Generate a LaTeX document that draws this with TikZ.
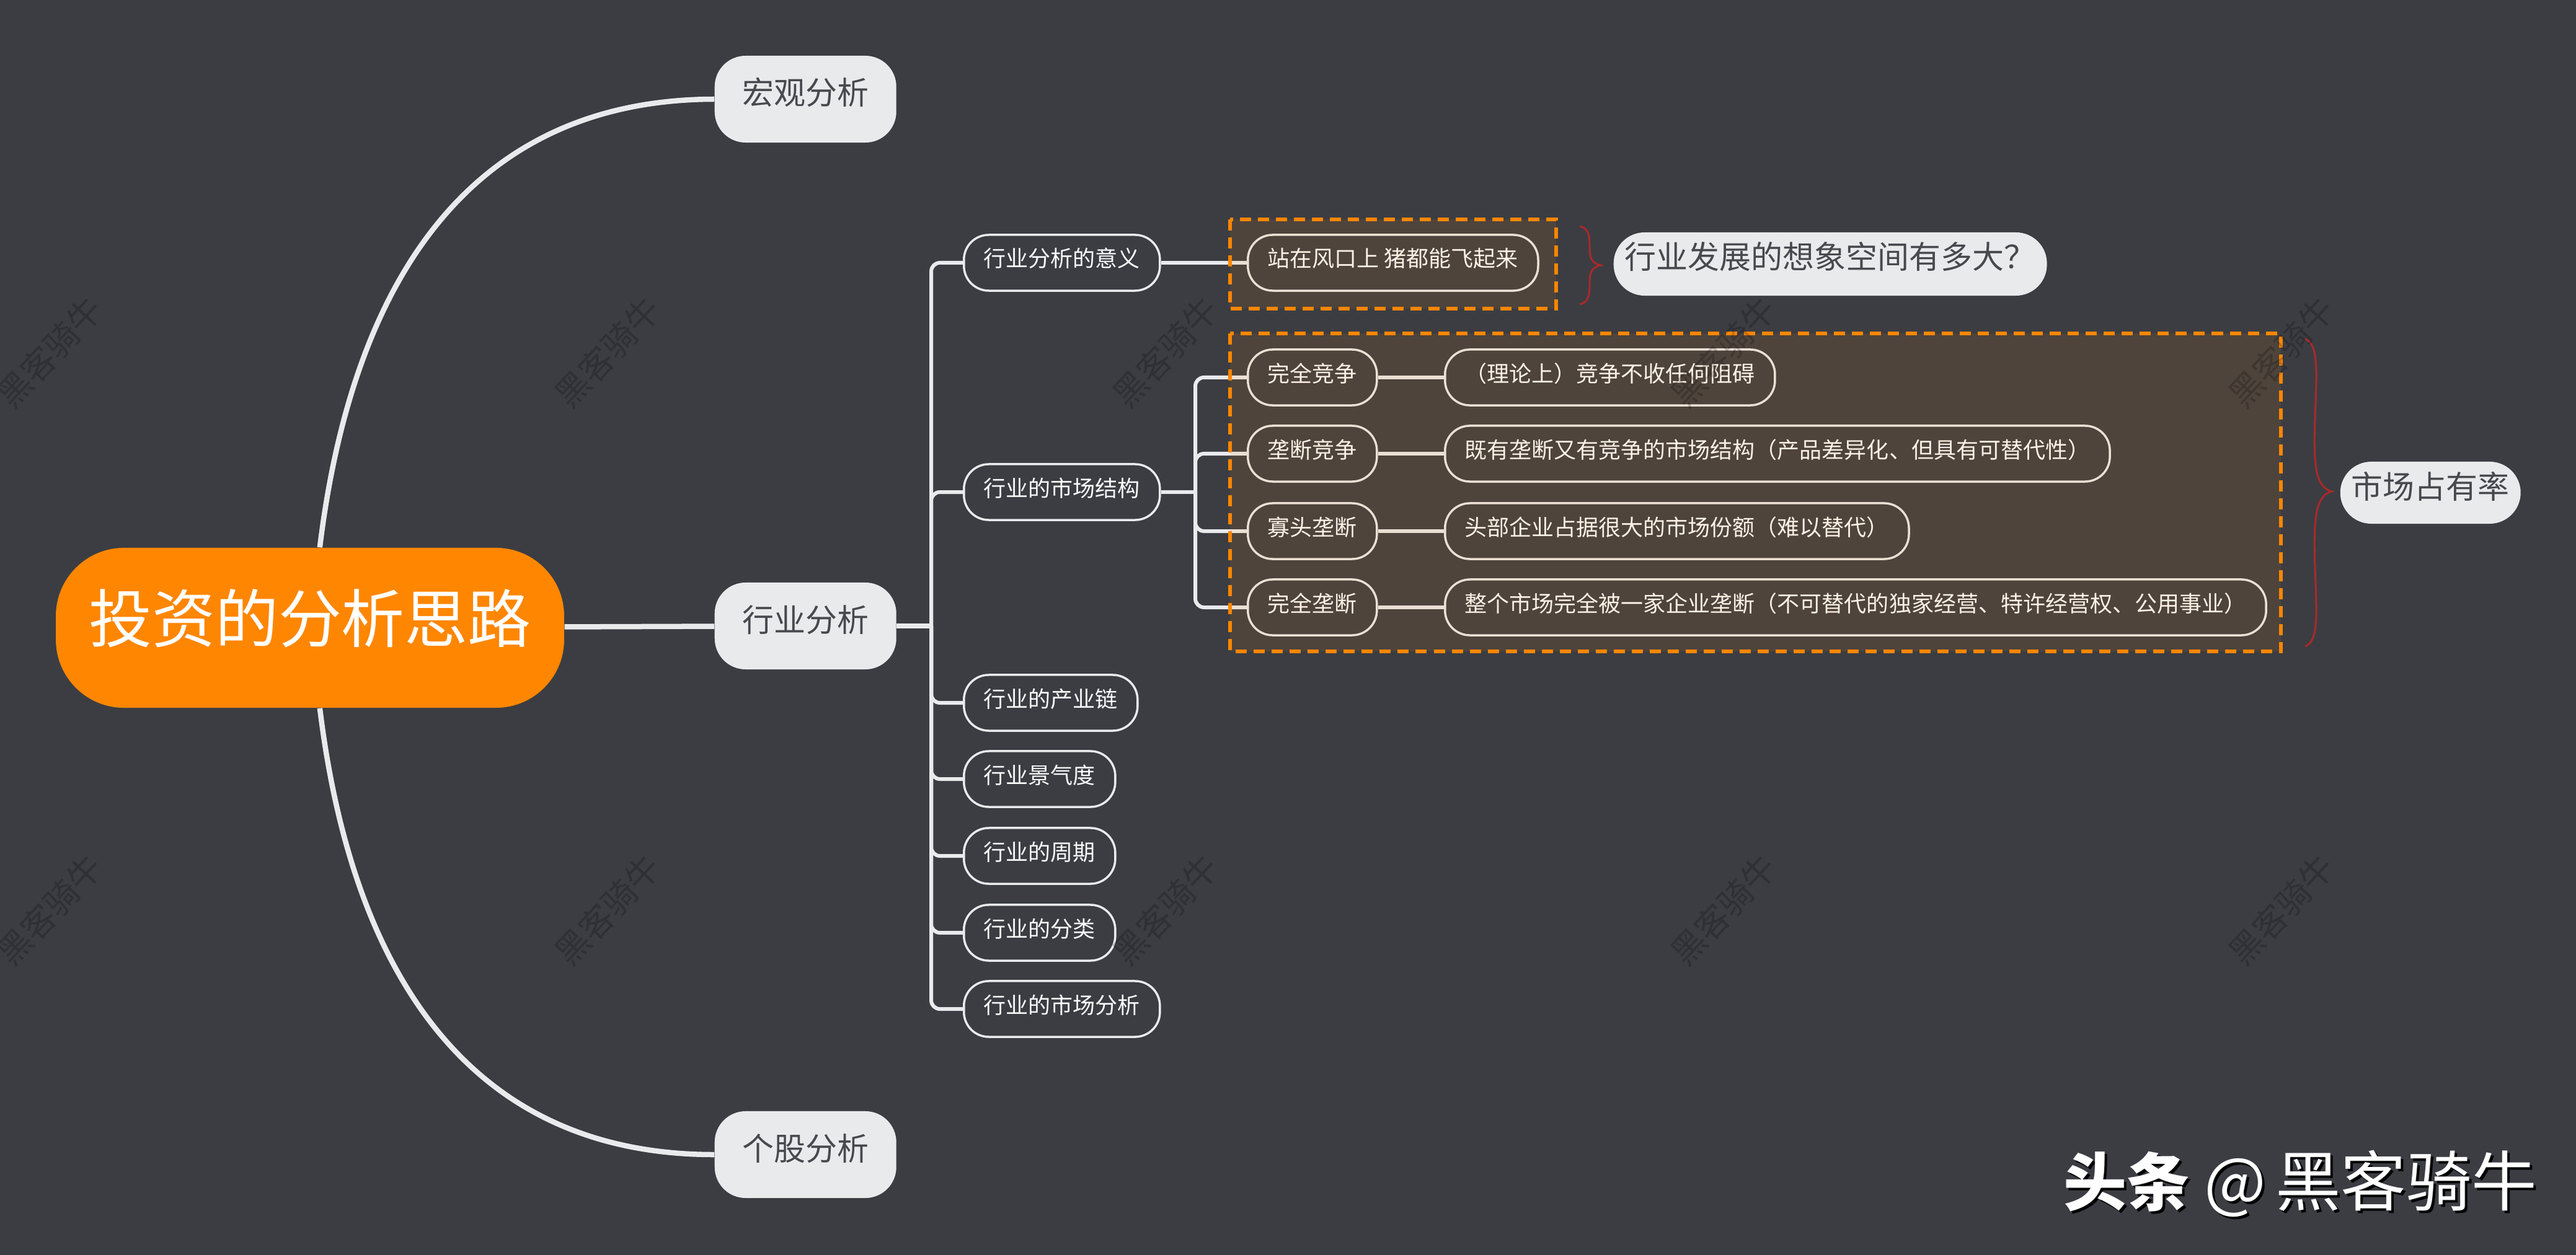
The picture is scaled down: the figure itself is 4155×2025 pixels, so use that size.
\documentclass[tikz,border=0pt]{standalone}
\usepackage{fontspec}
\setmainfont{Noto Sans CJK SC}
\definecolor{sheet}{HTML}{3B3D43}
\definecolor{pale}{HTML}{E9EAEC}
\definecolor{inkgrey}{HTML}{48494E}
\definecolor{rootfill}{HTML}{FF8600}
\definecolor{bracered}{HTML}{A82A2A}
\tikzset{
  rootnode/.style={rectangle, fill=rootfill, text=white, rounded corners=1.1cm, inner xsep=0.53cm, inner ysep=0,
    text height=1.52cm, text depth=1.06cm, font=\fontsize{29}{32}\selectfont},
  mainnode/.style={rectangle, fill=pale, text=inkgrey, rounded corners=0.5cm, inner xsep=0.445cm, inner ysep=0,
    text height=0.79cm, text depth=0.61cm, font=\fontsize{14.5}{17}\selectfont, anchor=west},
  noteA/.style={rectangle, fill=pale, text=inkgrey, rounded corners=0.5cm, inner xsep=0.18cm, inner ysep=0,
    text height=0.58cm, text depth=0.44cm, font=\fontsize{14.5}{17}\selectfont, anchor=west},
  noteB/.style={noteA, text height=0.59cm, text depth=0.41cm},
  leafnode/.style={rectangle, draw=pale, line width=0.035cm, text=white, rounded corners=0.4cm, inner xsep=0.32cm, inner ysep=0,
    text height=0.52cm, text depth=0.38cm, font=\fontsize{10.24}{12}\selectfont, anchor=west},
  trunk/.style={draw=pale, line width=0.085cm},
  branch/.style={draw=pale, line width=0.06cm, rounded corners=0.14cm},
  hilite/.style={draw=rootfill, line width=0.06cm, fill=rootfill, fill opacity=0.1, draw opacity=1, dash pattern=on 0.18cm off 0.11cm},
  brace/.style={draw=bracered, line width=0.03cm},
  wmark/.style={text=black, opacity=0.2, rotate=47, inner sep=0, font=\fontsize{15.5}{18}\selectfont},
  logotype/.style={anchor=base west, inner sep=0, font=\fontsize{29}{32}\selectfont}
}
\newcommand{\logotext}{{\bfseries 头条} {\fontsize{30}{32}\selectfont @\hspace{0.15cm}黑客骑牛}}
\begin{document}
\begin{tikzpicture}[x=0.01cm,y=-0.01cm]
        \useasboundingbox (0,0) rectangle (4155,2025);
        \fill[sheet] (0,0) rectangle (4155,2025);
        % Main nodes %
        \node [rootnode] (root) at (500,1013) {投资的分析思路};
        \node [mainnode] (macro) at (1152,160) {宏观分析};
        \node [mainnode] (trade) at (1152,1010) {行业分析};
        \node [mainnode] (stock) at (1152,1863) {个股分析};
        % Main links %
        \draw [trunk] (root) .. controls (565,480) and (740,161) .. (macro.west);
        \draw [trunk] (root) .. controls (565,1545) and (740,1863) .. (stock.west);
        \draw [trunk] (root) -- (trade);
        % Trade topics %
        \coordinate (spine) at (1502,1010);
        \node [leafnode] (sense) at (1553,424) {行业分析的意义};
        \node [leafnode] (market) at (1553,794) {行业的市场结构};
        \node [leafnode] (chain) at (1553,1134) {行业的产业链};
        \node [leafnode] (climate) at (1553,1257) {行业景气度};
        \node [leafnode] (cycle) at (1553,1381) {行业的周期};
        \node [leafnode] (sort) at (1553,1505) {行业的分类};
        \node [leafnode] (survey) at (1553,1628) {行业的市场分析};
        \draw [trunk] (trade) -- (spine);
        \draw [branch] (spine) |- (sense.west);
        \draw [branch] (spine) |- (market.west);
        \draw [branch] (spine) |- (chain.west);
        \draw [branch] (spine) |- (climate.west);
        \draw [branch] (spine) |- (cycle.west);
        \draw [branch] (spine) |- (sort.west);
        \draw [branch] (spine) |- (survey.west);
        % Second level %
        \node [leafnode] (wind) at (2011,424) {站在风口上 猪都能飞起来};
        \draw [branch] (sense) -- (wind);
        \coordinate (subspine) at (1928,794);
        \node [leafnode] (perfect) at (2011,609) {完全竞争};
        \node [leafnode] (monocomp) at (2011,732) {垄断竞争};
        \node [leafnode] (oligo) at (2011,857) {寡头垄断};
        \node [leafnode] (mono) at (2011,980) {完全垄断};
        \node [leafnode] (perfecttext) at (2329,609) {（理论上）竞争不收任何阻碍};
        \node [leafnode] (monocomptext) at (2329,732) {既有垄断又有竞争的市场结构（产品差异化、但具有可替代性）};
        \node [leafnode] (oligotext) at (2329,857) {头部企业占据很大的市场份额（难以替代）};
        \node [leafnode] (monotext) at (2329,980) {整个市场完全被一家企业垄断（不可替代的独家经营、特许经营权、公用事业）};
        \draw [branch] (market) -- (subspine);
        \draw [branch] (subspine) |- (perfect.west);
        \draw [branch] (subspine) |- (monocomp.west);
        \draw [branch] (subspine) |- (oligo.west);
        \draw [branch] (subspine) |- (mono.west);
        \draw [branch] (perfect) -- (perfecttext);
        \draw [branch] (monocomp) -- (monocomptext);
        \draw [branch] (oligo) -- (oligotext);
        \draw [branch] (mono) -- (monotext);
        % Dashed boxes %
        \draw [hilite] (1984,354) rectangle (2510,498);
        \draw [hilite] (1984,538) rectangle (3679,1051);
        % Braces and notes %
        \draw [brace] (2548,365) .. controls (2562,368) and (2564,380) .. (2564,395) .. controls (2564,415) and (2565,424) .. (2582,428) .. controls (2565,432) and (2564,441) .. (2564,460) .. controls (2564,476) and (2562,488) .. (2548,491);
        \draw [brace] (3718,547) .. controls (3738,555) and (3737,590) .. (3735,650) .. controls (3731,740) and (3731,785) .. (3761,793) .. controls (3731,800) and (3731,850) .. (3735,940) .. controls (3737,1000) and (3738,1035) .. (3718,1043);
        \node [noteA] (spacenote) at (2602,426) {行业发展的想象空间有多大？};
        \node [noteB] (sharenote) at (3774,795) {市场占有率};
        % Watermark %
        \node [wmark] (mark1) at (80,568) {黑客骑牛};
        \node [wmark] (mark2) at (980,568) {黑客骑牛};
        \node [wmark] (mark3) at (1880,568) {黑客骑牛};
        \node [wmark] (mark4) at (2780,568) {黑客骑牛};
        \node [wmark] (mark5) at (3680,568) {黑客骑牛};
        \node [wmark] (mark6) at (80,1468) {黑客骑牛};
        \node [wmark] (mark7) at (980,1468) {黑客骑牛};
        \node [wmark] (mark8) at (1880,1468) {黑客骑牛};
        \node [wmark] (mark9) at (2780,1468) {黑客骑牛};
        \node [wmark] (mark10) at (3680,1468) {黑客骑牛};
        % Logo %
        \node [logotype, text=black] (logoshade) at (3332,1949) {\logotext};
        \node [logotype, text=white] (logo) at (3328,1945) {\logotext};
      \end{tikzpicture}
\end{document}
